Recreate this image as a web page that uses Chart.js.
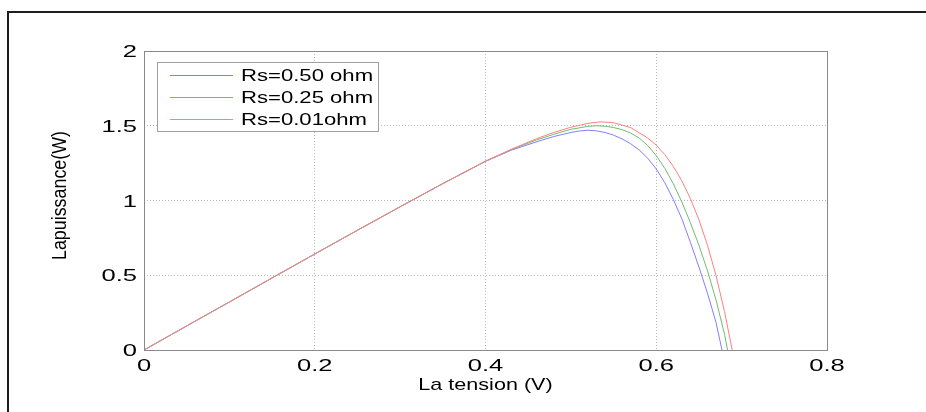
<!DOCTYPE html>
<html>
<head>
<meta charset="utf-8">
<script src="https://cdn.jsdelivr.net/npm/chart.js@4/dist/chart.umd.min.js"></script>
<style>
  html, body { margin: 0; padding: 0; background: #fff; }
  canvas { display: block; }
</style>
</head>
<body>
<canvas id="c" width="926" height="412"></canvas>
<script>
// P-V curves of a solar cell for three series resistances
const seriesLabels = ['Rs=0.50 ohm', 'Rs=0.25 ohm', 'Rs=0.01ohm'];
const seriesColors = ['#8080ff', '#70bd70', '#ff8080'];

const xTicks = [0, 0.2, 0.4, 0.6, 0.8];
const xTickLabels = ['0', '0.2', '0.4', '0.6', '0.8'];
const yTicks = [0, 0.5, 1, 1.5, 2];
const yTickLabels = ['0', '0.5', '1', '1.5', '2'];

const xTitle = 'La tension (V)';
const yTitle = 'Lapuissance(W)';

// Rs = 0.50 ohm
const tensionRs050 = [0, 0.05, 0.1, 0.15, 0.2, 0.25, 0.3, 0.35, 0.4, 0.43, 0.46, 0.48, 0.50, 0.51, 0.52, 0.53, 0.54, 0.55, 0.56, 0.57, 0.58, 0.59, 0.60, 0.61, 0.62, 0.63, 0.64, 0.65, 0.66, 0.67, 0.677];
const puissanceRs050 = [0, 0.161, 0.321, 0.482, 0.642, 0.801, 0.958, 1.113, 1.262, 1.336, 1.393, 1.428, 1.455, 1.465, 1.470, 1.466, 1.455, 1.437, 1.412, 1.380, 1.338, 1.283, 1.211, 1.119, 1.007, 0.877, 0.720, 0.555, 0.380, 0.185, 0];

// Rs = 0.25 ohm
const tensionRs025 = [0, 0.05, 0.1, 0.15, 0.2, 0.25, 0.3, 0.35, 0.4, 0.43, 0.46, 0.48, 0.50, 0.52, 0.53, 0.54, 0.55, 0.56, 0.57, 0.58, 0.59, 0.60, 0.61, 0.62, 0.63, 0.64, 0.65, 0.66, 0.67, 0.68, 0.6835];
const puissanceRs025 = [0, 0.161, 0.321, 0.482, 0.642, 0.801, 0.958, 1.113, 1.263, 1.340, 1.405, 1.443, 1.476, 1.496, 1.500, 1.497, 1.488, 1.474, 1.452, 1.418, 1.368, 1.300, 1.215, 1.112, 0.990, 0.852, 0.700, 0.530, 0.335, 0.105, 0];

// Rs = 0.01 ohm
const tensionRs001 = [0, 0.05, 0.1, 0.15, 0.2, 0.25, 0.3, 0.35, 0.4, 0.43, 0.46, 0.48, 0.50, 0.52, 0.535, 0.55, 0.57, 0.59, 0.60, 0.61, 0.62, 0.63, 0.64, 0.65, 0.66, 0.67, 0.68, 0.689];
const puissanceRs001 = [0, 0.161, 0.321, 0.482, 0.642, 0.801, 0.958, 1.113, 1.263, 1.342, 1.414, 1.455, 1.490, 1.516, 1.526, 1.520, 1.488, 1.418, 1.370, 1.307, 1.228, 1.131, 1.013, 0.871, 0.701, 0.498, 0.256, 0];

const toPoints = (xs, ys) => xs.map((x, i) => ({ x: x, y: ys[i] }));

const FONT = "'Liberation Sans', Arial, sans-serif";

function stretchedText(ctx, text, x, y, sx, align, size) {
  ctx.save();
  ctx.translate(x, y);
  ctx.scale(sx, 1);
  ctx.font = size + 'px ' + FONT;
  ctx.textAlign = align;
  ctx.textBaseline = 'alphabetic';
  ctx.fillStyle = '#000';
  ctx.fillText(text, 0, 0);
  ctx.restore();
}

const figurePlugin = {
  id: 'figureDecor',
  beforeDraw(chart) {
    const ctx = chart.ctx;
    ctx.save();
    ctx.fillStyle = '#fff';
    ctx.fillRect(0, 0, chart.width, chart.height);
    // outer figure frame (top and left edges)
    ctx.fillStyle = '#1e1e1e';
    ctx.fillRect(7, 11, chart.width - 7, 2);
    ctx.fillRect(7, 11, 2, chart.height - 11);
    ctx.restore();
  },
  afterDraw(chart) {
    const ctx = chart.ctx;
    const a = chart.chartArea;
    const xs = chart.scales.x, ys = chart.scales.y;
    ctx.save();
    // axes box
    ctx.strokeStyle = '#8a8a8a';
    ctx.lineWidth = 1;
    ctx.strokeRect(Math.round(a.left) + 0.5, Math.round(a.top) + 0.5,
                   Math.round(a.right - a.left), Math.round(a.bottom - a.top));

    // tick labels
    yTicks.forEach((v, i) => {
      const py = ys.getPixelForValue(v);
      stretchedText(ctx, yTickLabels[i], a.left - 7, py + 6, 1.55, 'right', 16.5);
    });
    xTicks.forEach((v, i) => {
      const px = xs.getPixelForValue(v);
      stretchedText(ctx, xTickLabels[i], px, a.bottom + 21, 1.55, 'center', 16.5);
    });

    // axis titles
    stretchedText(ctx, xTitle, (a.left + a.right) / 2, a.bottom + 40, 1.27, 'center', 17);
    ctx.save();
    ctx.translate(61, (a.top + a.bottom) / 2 - 5);
    ctx.rotate(-Math.PI / 2);
    ctx.scale(1.05, 1.15);
    ctx.font = '17px ' + FONT;
    ctx.textAlign = 'center';
    ctx.textBaseline = 'middle';
    ctx.fillStyle = '#000';
    ctx.fillText(yTitle, 0, 0);
    ctx.restore();

    // legend box, entries in dataset order
    const lx = 157, ly = 62, lw = 221, lh = 69;
    ctx.fillStyle = '#fff';
    ctx.fillRect(lx, ly, lw, lh);
    ctx.strokeStyle = '#a0a0a0';
    ctx.strokeRect(lx + 0.5, ly + 0.5, lw, lh);
    chart.data.datasets.forEach((ds, i) => {
      const y = ly + 13 + 22 * i;
      ctx.strokeStyle = ds.borderColor;
      ctx.lineWidth = 1;
      ctx.beginPath();
      ctx.moveTo(lx + 13, y + 0.5);
      ctx.lineTo(lx + 76, y + 0.5);
      ctx.stroke();
      stretchedText(ctx, ds.label, lx + 84, y + 6, 1.3, 'left', 17);
    });
    ctx.restore();
  }
};

// later series are drawn on top (lower order = drawn last)
const datasets = [
  { label: seriesLabels[0], data: toPoints(tensionRs050, puissanceRs050), borderColor: seriesColors[0], order: 2 },
  { label: seriesLabels[1], data: toPoints(tensionRs025, puissanceRs025), borderColor: seriesColors[1], order: 1 },
  { label: seriesLabels[2], data: toPoints(tensionRs001, puissanceRs001), borderColor: seriesColors[2], order: 0 }
].map(d => Object.assign(d, {
  borderWidth: 1,
  pointRadius: 0,
  fill: false,
  tension: 0
}));

new Chart(document.getElementById('c'), {
  type: 'line',
  data: { datasets: datasets },
  options: {
    responsive: false,
    animation: false,
    devicePixelRatio: 1,
    layout: { padding: { left: 0, right: 99, top: 51, bottom: 0 } },
    plugins: { legend: { display: false }, tooltip: { enabled: false } },
    scales: {
      x: {
        type: 'linear', min: 0, max: 0.8,
        afterBuildTicks: s => { s.ticks = xTicks.map(v => ({ value: v })); },
        afterFit: s => { s.height = 62; },
        ticks: { display: false },
        grid: { color: '#b8b8b8', lineWidth: 1, drawTicks: false },
        border: { display: false, dash: [1, 2] }
      },
      y: {
        type: 'linear', min: 0, max: 2,
        afterBuildTicks: s => { s.ticks = yTicks.map(v => ({ value: v })); },
        afterFit: s => { s.width = 144; },
        ticks: { display: false },
        grid: { color: '#b8b8b8', lineWidth: 1, drawTicks: false },
        border: { display: false, dash: [1, 2] }
      }
    }
  },
  plugins: [figurePlugin]
});
</script>
</body>
</html>
